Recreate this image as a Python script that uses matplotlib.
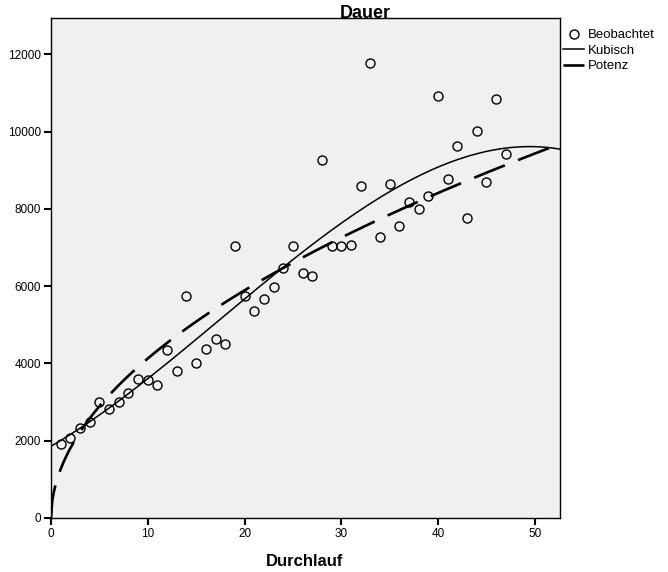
import numpy as np
import matplotlib.pyplot as plt

plt.rcParams['font.family'] = ['Liberation Sans', 'DejaVu Sans']

# observed values (Durchlauf 1..47)
durchlauf = list(range(1, 48))
dauer = [1915, 2070, 2330, 2480, 3000, 2820, 3000, 3230, 3600, 3570,
         3440, 4350, 3800, 5740, 4010, 4370, 4630, 4500, 7040, 5740,
         5360, 5670, 5980, 6470, 7040, 6340, 6260, 9260, 7040, 7040,
         7060, 8590, 11770, 7270, 8640, 7550, 8180, 8000, 8330, 10920,
         8770, 9620, 7760, 10010, 8690, 10840, 9420]
y_ticks = [0, 2000, 4000, 6000, 8000, 10000, 12000]
x_ticks = [0, 10, 20, 30, 40, 50]

x = np.array(durchlauf, dtype=float)
y = np.array(dauer, dtype=float)

# regression curves fitted on the observed data
cubic = np.polyfit(x, y, 3)
b, log_a = np.polyfit(np.log(x), np.log(y), 1)

xx = np.linspace(0, 52.6, 400)
y_cubic = np.polyval(cubic, xx)
y_power = np.exp(log_a) * xx ** b

fig = plt.figure(figsize=(6.68, 5.72), dpi=100)
ax = fig.add_axes([51 / 668, 54 / 572, 509 / 668, 500 / 572])
ax.set_facecolor('#f0f0f0')

ax.plot(x, y, 'o', mfc='none', mec='black', ms=6.5, mew=1.0,
        label='Beobachtet', zorder=3)
ax.plot(xx, y_cubic, color='black', lw=1.1, label='Kubisch')
ax.plot(xx, y_power, color='black', lw=1.9, dashes=(12.5, 5.4),
        label='Potenz')

ax.set_xlim(0, 52.6)
ax.set_ylim(0, 12940)
ax.set_xticks(x_ticks)
ax.set_yticks(y_ticks)
ax.tick_params(direction='out', length=5, width=1.5, labelsize=8.5,
               pad=2)
for s in ax.spines.values():
    s.set_linewidth(1.0)

fig.text(365 / 668, 1 - 13 / 572, 'Dauer', ha='center', va='center',
         fontsize=13, fontweight='bold')
fig.text(305 / 668, 1 - 561 / 572, 'Durchlauf', ha='center',
         va='center', fontsize=12, fontweight='bold')

fig.legend(loc='upper left', bbox_to_anchor=(563 / 668, 1 - 29 / 572),
           frameon=False, fontsize=9.5, handlelength=1.6,
           handletextpad=0.3, labelspacing=0.25, borderaxespad=0,
           borderpad=0)

fig.savefig('out.png', dpi=100)
